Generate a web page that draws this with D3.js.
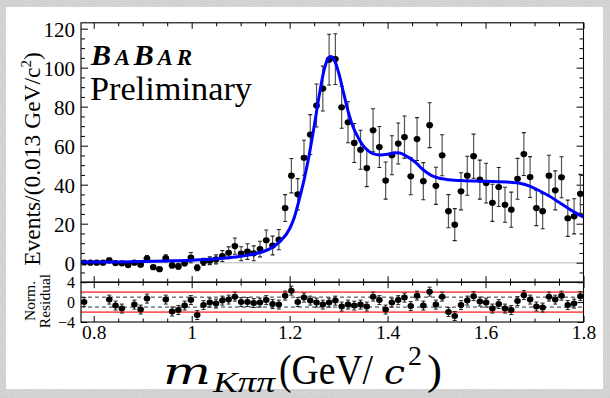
<!DOCTYPE html>
<html><head><meta charset="utf-8">
<script src="https://cdn.jsdelivr.net/npm/d3@7"></script>
<style>
html,body{margin:0;padding:0;background:#d3d3d3;}
svg{display:block;}
</style></head>
<body>
<svg id="c" width="610" height="398"></svg>
<script>
// ---- data (bin centres in GeV/c^2) ----
const mass = [0.7804,0.7932,0.8061,0.8189,0.8317,0.8445,0.8574,0.8702,0.8830,0.8958,
0.9087,0.9215,0.9343,0.9471,0.9600,0.9728,0.9856,0.9984,1.0113,1.0241,
1.0369,1.0497,1.0626,1.0754,1.0882,1.1010,1.1139,1.1267,1.1395,1.1523,
1.1652,1.1780,1.1908,1.2036,1.2165,1.2293,1.2421,1.2549,1.2678,1.2806,
1.2934,1.3062,1.3191,1.3319,1.3447,1.3575,1.3704,1.3832,1.3960,1.4088,
1.4217,1.4345,1.4473,1.4601,1.4730,1.4858,1.4986,1.5114,1.5243,1.5371,
1.5499,1.5627,1.5756,1.5884,1.6012,1.6140,1.6269,1.6397,1.6525,1.6653,
1.6782,1.6910,1.7038,1.7166,1.7295,1.7423,1.7551,1.7679,1.7808,1.7936];
const events = [0.1,0,0,0,1.2,-0.2,-0.3,-1.2,0,-1,
2.1,-2.3,-3.3,2.3,-1.4,-1.9,-0.3,2.6,-2.6,0.4,
1.0,1.7,3.4,5.1,8.5,4.6,5.7,4.8,7.0,11.5,
8.8,11.8,28.0,44.6,35.1,53.8,65.7,80.6,89.3,104.1,
104.4,79.7,72.0,61.4,57.9,48.5,67.9,59.3,42.1,55.1,
61.1,64.4,44.3,63.4,41.8,70.5,39.4,55.1,26.4,19.5,
36.6,44.6,54.6,42.6,40.8,30.7,38.8,29.7,27.2,43.0,
55.7,43.9,28.0,26.4,44.6,37.1,43.8,22.8,23.8,35.3];
const errors = [0.8,0,0,0,1.2,0.8,0.8,0,0.9,1.0,
1.6,0,0,1.8,1.3,1.4,1.2,2.6,1.5,1.8,
2.0,2.3,2.8,3.0,4.2,3.6,4.0,3.8,4.0,5.3,
4.8,5.2,6.9,8.8,8.0,9.0,10.2,11.0,11.5,13.0,
13.0,10.8,10.5,10.0,10.0,9.5,11.0,10.5,9.5,10.0,
10.5,10.8,9.5,11.0,9.5,11.5,9.5,10.5,8.5,8.2,
9.5,10.0,11.3,10.0,10.2,9.5,10.0,9.0,9.0,10.5,
11.0,10.5,9.0,9.0,10.5,10.0,10.5,9.3,9.0,10.0];
const residuals = [0,null,null,null,0.5,-0.7,-1.3,null,-0.5,-1.5,
0.7,null,null,0.5,-1.9,-1.6,-0.7,0.4,-2.6,-0.6,
-0.1,-0.3,0.3,0.5,1.1,0,0,-0.2,-0.1,0.4,
-0.4,-0.5,1.3,2.3,0,0.9,0.3,-0.1,-0.5,-0.1,
0.3,-0.9,-0.5,-0.7,-0.5,-0.9,1.1,0.4,-1.5,-0.1,
0.4,0.9,-0.8,1.3,-0.7,2.1,-0.5,1.1,-2.0,-2.8,
-0.6,0.3,1.2,0.1,-0.1,-1.3,-0.4,-1.3,-1.6,0.2,
1.4,0.5,-0.9,-1.1,1.1,0.5,1.3,-0.6,-0.3,1.2];
const residualError = 0.9;
// fit curve
const fitMass = [0.774,0.85,0.9,0.95,1.00,1.05,1.10,1.13,1.16,1.18,1.20,1.21,1.22,1.23,1.24,1.25,1.26,1.27,1.28,1.285,1.29,1.30,1.31,1.32,1.33,1.34,1.35,1.36,1.37,1.385,1.40,1.415,1.425,1.44,1.45,1.46,1.47,1.48,1.49,1.50,1.52,1.55,1.60,1.65,1.67,1.69,1.71,1.73,1.75,1.77,1.785,1.80];
const fitValues = [0.3,0.4,0.6,0.9,1.3,2.0,3.3,4.6,7.2,10.8,17.4,23.6,32.8,43.1,55.4,69.8,85.2,98.5,105.2,105.7,104.6,97.5,87.2,77,69.3,64.1,60,57.5,55.9,55.2,55.6,56.4,56.2,54.4,52.8,50.8,48.2,46.2,44.6,43.7,42.7,42.1,41.7,41.2,40.7,39.3,36.9,34.2,31,27.7,25.4,23.3];
const yTicksTop = [0,20,40,60,80,100,120];
const xTicks = [0.8,1,1.2,1.4,1.6,1.8];
const xTickLabels = ["0.8","1","1.2","1.4","1.6","1.8"];
const resTicks = [-4,0,4];
const resTickLabels = ["\u22124","0","4"];

const SERIF = "'Liberation Serif','Times New Roman',serif";
const WIDE = "'DejaVu Serif','Liberation Serif',serif";
const svg = d3.select("#c");
const defs = svg.append("defs");
const f = defs.append("filter").attr("id","noise").attr("x",0).attr("y",0).attr("width","100%").attr("height","100%");
f.append("feTurbulence").attr("type","fractalNoise").attr("baseFrequency",0.8).attr("numOctaves",2).attr("seed",3);
f.append("feColorMatrix").attr("type","matrix").attr("values","0 0 0 0 0.45  0 0 0 0 0.45  0 0 0 0 0.45  0 0 0 0.9 -0.3");

svg.append("rect").attr("width",610).attr("height",398).attr("fill","#d6d6d6");
svg.append("rect").attr("width",610).attr("height",398).attr("filter","url(#noise)").attr("opacity",0.6);
svg.append("rect").attr("x",6).attr("y",7).attr("width",597).attr("height",382).attr("fill","#fff");

const L=81, R=583.5, T=22.8, B1=282.2, B2=322;
const x = d3.scaleLinear().domain([0.774,1.8]).range([L,R]);
const y = d3.scaleLinear().domain([-10,123]).range([B1,T]);
const yr = d3.scaleLinear().domain([-4,4]).range([B2,B1]);

defs.append("clipPath").attr("id","clipTop").append("rect").attr("x",L).attr("y",T).attr("width",R-L).attr("height",B1-T);
defs.append("clipPath").attr("id","clipRes").append("rect").attr("x",L).attr("y",B1).attr("width",R-L).attr("height",B2-B1);

const minorX = d3.range(0.8,1.8001,0.05).filter(v=>Math.abs(v*5-Math.round(v*5))>1e-6);
const minorY = d3.range(-5,123,5).filter(v=>v%20!==0);

function styleAxis(g){
  g.select(".domain").remove();
  g.selectAll(".tick line").attr("stroke","#000").attr("stroke-width",1);
}
svg.append("line").attr("x1",L).attr("x2",R).attr("y1",y(0)).attr("y2",y(0)).attr("stroke","#d0d0d0").attr("stroke-width",1.6);

// ticks
const tickSets = [
  [d3.axisRight(y).tickValues(yTicksTop).tickSize(7).tickFormat(""), `translate(${L},0)`],
  [d3.axisRight(y).tickValues(minorY).tickSize(4).tickFormat(""), `translate(${L},0)`],
  [d3.axisLeft(y).tickValues(yTicksTop).tickSize(7).tickFormat(""), `translate(${R},0)`],
  [d3.axisLeft(y).tickValues(minorY).tickSize(4).tickFormat(""), `translate(${R},0)`],
  [d3.axisBottom(x).tickValues(xTicks).tickSize(6).tickFormat(""), `translate(0,${T})`],
  [d3.axisBottom(x).tickValues(minorX).tickSize(3.5).tickFormat(""), `translate(0,${T})`],
  [d3.axisTop(x).tickValues(xTicks).tickSize(6).tickFormat(""), `translate(0,${B1})`],
  [d3.axisTop(x).tickValues(minorX).tickSize(3.5).tickFormat(""), `translate(0,${B1})`],
  [d3.axisBottom(x).tickValues(xTicks).tickSize(6).tickFormat(""), `translate(0,${B1})`],
  [d3.axisBottom(x).tickValues(minorX).tickSize(3.5).tickFormat(""), `translate(0,${B1})`],
  [d3.axisTop(x).tickValues(xTicks).tickSize(6).tickFormat(""), `translate(0,${B2})`],
  [d3.axisTop(x).tickValues(minorX).tickSize(3.5).tickFormat(""), `translate(0,${B2})`],
  [d3.axisRight(yr).tickValues(resTicks).tickSize(6).tickFormat(""), `translate(${L},0)`],
  [d3.axisRight(yr).tickValues([-2,2]).tickSize(3.5).tickFormat(""), `translate(${L},0)`],
  [d3.axisLeft(yr).tickValues(resTicks).tickSize(6).tickFormat(""), `translate(${R},0)`],
  [d3.axisLeft(yr).tickValues([-2,2]).tickSize(3.5).tickFormat(""), `translate(${R},0)`]
];
tickSets.forEach(([ax,tr])=>{ svg.append("g").attr("transform",tr).call(ax).call(styleAxis); });

// tick labels
svg.append("g").attr("transform",`translate(${L},0)`)
  .call(d3.axisLeft(y).tickValues(yTicksTop).tickSize(0).tickPadding(6))
  .call(g=>{g.select(".domain").remove(); g.selectAll("text").attr("font-family",SERIF).attr("font-size",21).attr("fill","#000").attr("dy","0.36em");});
svg.append("g").attr("transform",`translate(${L},0)`)
  .call(d3.axisLeft(yr).tickValues(resTicks).tickSize(0).tickPadding(6).tickFormat((d,i)=>resTickLabels[i]))
  .call(g=>{g.select(".domain").remove(); g.selectAll("text").attr("font-family",SERIF).attr("font-size",16).attr("fill","#000").attr("dy","0.34em");});
svg.append("g").attr("transform",`translate(0,${B2})`)
  .call(d3.axisBottom(x).tickValues(xTicks).tickSize(0).tickPadding(3).tickFormat((d,i)=>xTickLabels[i]))
  .call(g=>{g.select(".domain").remove(); g.selectAll("text").attr("font-family",SERIF).attr("font-size",19.5).attr("fill","#000");});

// data
const pts = mass.map((m,i)=>({m, v:events[i], e:errors[i], r:residuals[i]}));
const gT = svg.append("g").attr("clip-path","url(#clipTop)");
const withErr = pts.filter(d=>d.e>0);
gT.selectAll("line.eb").data(withErr).join("line").attr("class","eb")
  .attr("x1",d=>x(d.m)).attr("x2",d=>x(d.m)).attr("y1",d=>y(d.v-d.e)).attr("y2",d=>y(d.v+d.e))
  .attr("stroke","#555").attr("stroke-width",1.2);
["lo","hi"].forEach(k=>{
  gT.selectAll("line.cap"+k).data(withErr).join("line").attr("class","cap"+k)
   .attr("x1",d=>x(d.m)-2).attr("x2",d=>x(d.m)+2)
   .attr("y1",d=>y(k==="lo"?d.v-d.e:d.v+d.e)).attr("y2",d=>y(k==="lo"?d.v-d.e:d.v+d.e))
   .attr("stroke","#222").attr("stroke-width",1.1);
});
gT.selectAll("ellipse.pt").data(pts).join("ellipse").attr("class","pt")
  .attr("cx",d=>x(d.m)).attr("cy",d=>y(d.v)).attr("rx",3.4).attr("ry",3.1).attr("fill","#000");

const fit = fitMass.map((m,i)=>[m,fitValues[i]]);
gT.append("path").datum(fit)
  .attr("d",d3.line().x(d=>x(d[0])).y(d=>y(d[1])).curve(d3.curveMonotoneX))
  .attr("fill","none").attr("stroke","#0000ff").attr("stroke-width",3);

// residual panel
const gR = svg.append("g").attr("clip-path","url(#clipRes)");
[-2,2].forEach(v=>gR.append("line").attr("x1",L).attr("x2",R).attr("y1",yr(v)).attr("y2",yr(v)).attr("stroke","#ff5a5a").attr("stroke-width",1.8));
[-1,1].forEach(v=>gR.append("line").attr("x1",L).attr("x2",R).attr("y1",yr(v)).attr("y2",yr(v)).attr("stroke","#333").attr("stroke-width",1).attr("stroke-dasharray","4,3"));
const rp = pts.filter(d=>d.r!==null);
gR.selectAll("line.reb").data(rp).join("line").attr("class","reb")
  .attr("x1",d=>x(d.m)).attr("x2",d=>x(d.m)).attr("y1",d=>yr(d.r-residualError)).attr("y2",d=>yr(d.r+residualError))
  .attr("stroke","#3a3a3a").attr("stroke-width",1.2);
["lo","hi"].forEach(k=>{
  gR.selectAll("line.rcap"+k).data(rp).join("line").attr("class","rcap"+k)
   .attr("x1",d=>x(d.m)-2).attr("x2",d=>x(d.m)+2)
   .attr("y1",d=>yr(k==="lo"?d.r-residualError:d.r+residualError)).attr("y2",d=>yr(k==="lo"?d.r-residualError:d.r+residualError))
   .attr("stroke","#222").attr("stroke-width",1);
});
gR.selectAll("ellipse.rpt").data(rp).join("ellipse").attr("class","rpt")
  .attr("cx",d=>x(d.m)).attr("cy",d=>yr(d.r)).attr("rx",3.3).attr("ry",3).attr("fill","#000");

// frames
svg.append("rect").attr("x",L).attr("y",T).attr("width",R-L).attr("height",B1-T).attr("fill","none").attr("stroke","#000").attr("stroke-width",1.1);
svg.append("rect").attr("x",L).attr("y",B1).attr("width",R-L).attr("height",B2-B1).attr("fill","none").attr("stroke","#000").attr("stroke-width",1.1);

// texts
const logo = svg.append("text").attr("x",91).attr("y",65).attr("font-family",SERIF)
  .attr("font-weight","bold").attr("font-style","italic").attr("textLength",101).attr("lengthAdjust","spacing");
[["B",30],["A",23],["B",30],["AR",23]].forEach(([t,s])=>logo.append("tspan").attr("font-size",s).text(t));
svg.append("text").attr("x",90).attr("y",100).attr("font-family",SERIF).attr("font-size",34).attr("textLength",162).attr("lengthAdjust","spacingAndGlyphs").text("Preliminary");

const yl = svg.append("text").attr("transform","translate(40,159) rotate(-90)").attr("text-anchor","middle")
  .attr("font-family",SERIF).attr("font-size",23.5);
yl.append("tspan").text("Events/(0.013 GeV/c");
yl.append("tspan").attr("font-size",15).attr("dy",-9).text("2");
yl.append("tspan").attr("dy",9).text(")");

const nr = svg.append("text").attr("transform","translate(35,301) rotate(-90)").attr("text-anchor","middle")
  .attr("font-family",SERIF).attr("font-size",15.5);
nr.append("tspan").attr("x",0).attr("y",0).text("Norm.");
nr.append("tspan").attr("x",0).attr("y",15).text("Residual");

// x axis title, pieces placed to match the reference typesetting
const xt = svg.append("g").attr("fill","#000");
const piece = (t,px,py,size,ital,len,fam)=>{
  const e = xt.append("text").attr("x",px).attr("y",py).attr("font-size",size).attr("font-family",fam||SERIF).text(t);
  if(ital) e.attr("font-style","italic");
  if(len) e.attr("textLength",len).attr("lengthAdjust","spacingAndGlyphs");
  return e;
};
piece("m",163,384,35,true,48,WIDE);
piece("K\u03c0\u03c0",213,392,29,true,62);
piece("(GeV/",279,384,42,false,94);
piece("c",384,384,34,true,21,WIDE);
piece("2",408,365,27,false,14);
piece(")",427,384,42,false,15);
</script>
</body></html>
